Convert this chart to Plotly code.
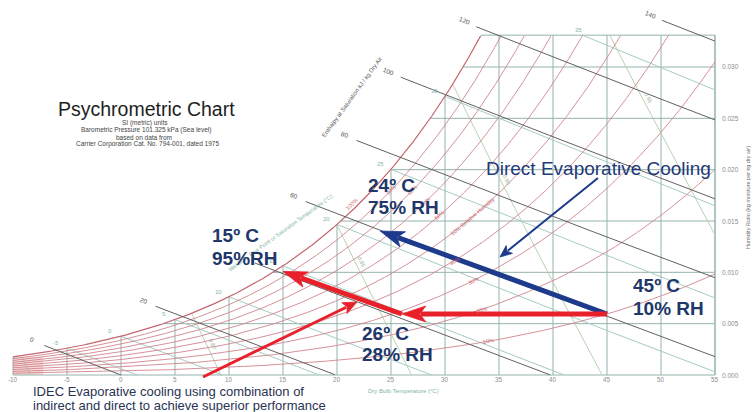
import numpy as np
import plotly.graph_objects as go

# ---------------- chart values ----------------
db_ticks = [-10, -5, 0, 5, 10, 15, 20, 25, 30, 35, 40, 45, 50, 55]
w_ticks = [0.000, 0.005, 0.010, 0.015, 0.020, 0.025, 0.030]
w_tick_labels = ["0.000", "0.005", "0.010", "0.015", "0.020", "0.025", "0.030"]
rh_levels = [10, 20, 30, 40, 50, 60, 70, 80, 90, 100]
rh_labels = ["10%", "20%", "30%", "40%", "50% Relative Humidity", "60%", "70%", "80%", "90%", "100%"]
enthalpy_levels = [0, 20, 40, 60, 80, 100, 120, 140]
enthalpy_labels = ["0", "20", "", "60", "80", "100", "120", "140"]
wetbulb_levels = [-5, 0, 5, 10, 15, 20, 25, 30, 35]
volume_levels = [0.75, 0.80, 0.85, 0.90, 0.95]
volume_labels = ["", "0.80", "0.85", "0.90", "0.95"]
w_chart_top = 0.0331
pressure_kpa = 101.325

# process states (dry bulb degC, relative humidity %)
outdoor_state = (45, 10)
indirect_state = (26, 28)
idec_state = (15, 95)
direct_state = (24, 75)

# ---------------- layout helpers (pixel -> data) ----------------
PX_PER_C = 10.8
PX_PER_W = 10267.0
def X(px):
    return -10 + (px - 13) / PX_PER_C
def Y(py):
    return (375 - py) / PX_PER_W

# ---------------- psychrometric relations ----------------
def psat(t):
    t = np.asarray(t, dtype=float)
    return 0.61094 * np.exp(17.625 * t / (t + 243.04))

def w_rh(t, rh):
    pw = rh / 100.0 * psat(t)
    return 0.622 * pw / (pressure_kpa - pw)

def dewpoint(w):
    pw = w * pressure_kpa / (0.622 + w)
    a = np.log(pw / 0.61094)
    return 243.04 * a / (17.625 - a)

def w_enthalpy(t, h):
    return (h - 1.006 * t) / (2501 + 1.86 * t)

def w_wetbulb(t, twb):
    ws = w_rh(twb, 100)
    return ((2501 - 2.326 * twb) * ws - 1.006 * (t - twb)) / (2501 + 1.86 * t - 4.186 * twb)

def t_volume(w, v):
    return v * pressure_kpa / (0.287042 * (1 + 1.607858 * w)) - 273.15

T = np.linspace(db_ticks[0], db_ticks[-1], 1301)
t_top = float(dewpoint(w_chart_top))

fig = go.Figure()

def add_segments(xs_list, ys_list, color, width):
    xs, ys = [], []
    for a, b in zip(xs_list, ys_list):
        xs += list(a) + [None]
        ys += list(b) + [None]
    fig.add_trace(go.Scatter(x=xs, y=ys, mode="lines", hoverinfo="skip",
                             line=dict(color=color, width=width), showlegend=False))

# pink low-temperature zone
fig.add_trace(go.Scatter(x=[-10, -7.2, -7.2, -10, -10], y=[0, 0, float(w_rh(-10, 100)), float(w_rh(-10, 100)), 0],
                         fill="toself", fillcolor="rgba(232,150,150,0.35)", mode="lines",
                         line=dict(width=0), hoverinfo="skip", showlegend=False))

# grid: dry bulb verticals, humidity ratio horizontals, borders
gx, gy = [], []
for t in db_ticks:
    top = min(float(w_rh(t, 100)), w_chart_top)
    gx.append([t, t]); gy.append([0, top])
for w in w_ticks[1:]:
    gx.append([float(dewpoint(w)), db_ticks[-1]]); gy.append([w, w])
gx.append([t_top, db_ticks[-1]]); gy.append([w_chart_top, w_chart_top])
gx.append([db_ticks[-1], db_ticks[-1]]); gy.append([0, w_chart_top])
gx.append([db_ticks[0], db_ticks[-1]]); gy.append([0, 0])
add_segments(gx, gy, "#94b3ab", 1)

# specific volume lines
vx, vy = [], []
for v in volume_levels:
    ww = np.linspace(0, w_chart_top, 400)
    tt = t_volume(ww, v)
    m = (tt <= db_ticks[-1]) & (ww <= w_rh(tt, 100)) & (tt >= db_ticks[0])
    vx.append(tt[m]); vy.append(ww[m])
add_segments(vx, vy, "#b9d2b3", 1)

# wet bulb lines
bx, by = [], []
for twb in wetbulb_levels:
    tt = np.linspace(twb, db_ticks[-1], 500)
    ww = w_wetbulb(tt, twb)
    m = (ww >= 0) & (ww <= w_chart_top)
    bx.append(tt[m]); by.append(ww[m])
add_segments(bx, by, "#a6cbc3", 1)

# relative humidity curves
rx, ry = [], []
for rh in rh_levels[:-1]:
    ww = w_rh(T, rh)
    m = ww <= w_chart_top
    rx.append(T[m]); ry.append(ww[m])
add_segments(rx, ry, "#d0858c", 0.9)
ws = w_rh(T, 100)
m = ws <= w_chart_top
add_segments([T[m]], [ws[m]], "#c4666f", 1.2)

# enthalpy lines
h_label_t = [-8.0, 2.3, 11.5, 16.2, 20.9, 25.0, 32.0, 49.2]
ex, ey = [], []
for h, tl in zip(enthalpy_levels, h_label_t):
    tt = np.linspace(tl + 0.9, db_ticks[-1], 500)
    ww = w_enthalpy(tt, h)
    m = ww >= 0
    ex.append(tt[m]); ey.append(ww[m])
add_segments(ex, ey, "#606060", 1)

# ---------------- process arrows (line + notched head) ----------------
def draw_arrow(x0, y0, x1, y1, color, width, head_len, head_half, notch):
    dxp = (x1 - x0) * PX_PER_C
    dyp = (y1 - y0) * PX_PER_W
    L = float(np.hypot(dxp, dyp))
    ux, uy = dxp / L, dyp / L
    nx, ny = -uy, ux
    def pt(back, side):
        return (x1 + (-ux * back + nx * side) / PX_PER_C,
                y1 + (-uy * back + ny * side) / PX_PER_W)
    lx, ly = pt(head_len - notch + 1, 0)
    fig.add_trace(go.Scatter(x=[x0, lx], y=[y0, ly], mode="lines", hoverinfo="skip",
                             line=dict(color=color, width=width), showlegend=False))
    pts = [(x1, y1), pt(head_len, head_half), pt(head_len - notch, 0), pt(head_len, -head_half), (x1, y1)]
    fig.add_trace(go.Scatter(x=[p[0] for p in pts], y=[p[1] for p in pts], mode="lines",
                             fill="toself", fillcolor=color, hoverinfo="skip",
                             line=dict(color=color, width=0.8), showlegend=False))

w_out = float(w_rh(*outdoor_state))
w_direct = float(w_rh(*direct_state))
w_idec = float(w_rh(*idec_state))
RED = "#e8202a"
BLUE = "#1d3a8c"
draw_arrow(outdoor_state[0], w_out, direct_state[0], w_direct, BLUE, 5, 24, 8, 6)
draw_arrow(outdoor_state[0], w_out, indirect_state[0], w_out, RED, 5, 24, 8, 6)
draw_arrow(indirect_state[0], w_out, idec_state[0], w_idec, RED, 5, 24, 8, 6)
draw_arrow(X(598), Y(178), X(500), Y(257), BLUE, 2, 12, 5, 3)
draw_arrow(X(203), Y(377), X(357), Y(302), RED, 3, 14, 6, 3)

ann = []
FONT = "Arial, Liberation Sans, sans-serif"

def text(x, y, s, size, color, xanchor="center", angle=0, bold=False):
    ann.append(dict(x=x, y=y, xref="x", yref="y", text=("<b>%s</b>" % s) if bold else s,
                    showarrow=False, xanchor=xanchor, yanchor="middle", textangle=angle,
                    borderpad=0, borderwidth=0,
                    font=dict(family=FONT, size=size, color=color)))

# axis tick labels
for t in db_ticks:
    text(t, Y(379.5), str(t), 6.3, "#8e8e8e")
for w, lab in zip(w_ticks, w_tick_labels):
    text(X(722), w, lab, 6.5, "#8e8e8e", xanchor="left")
text(X(403), Y(391), "Dry Bulb Temperature (°C)", 6, "#7fb2a8")
text(X(748), Y(198), "Humidity Ratio (kg moisture per kg dry air)", 5.5, "#707070", angle=-90)
text(X(352), Y(97), "Enthalpy at Saturation kJ / kg Dry Air", 6, "#606060", angle=-54)
text(X(280), Y(233), "Wet Bulb, Dew Point or Saturation Temperature (°C)", 5.5, "#7fb2a8", angle=-36)

# enthalpy labels
for h, tl, lab in zip(enthalpy_levels, h_label_t, enthalpy_labels):
    if lab:
        text(tl - 0.2, float(w_enthalpy(tl, h)) + 0.0002, lab, 6.5, "#555555", angle=22)

# wet bulb labels
for twb in wetbulb_levels:
    wsat = float(w_rh(twb, 100))
    if wsat <= w_chart_top:
        text(twb - 1.0, wsat + 0.0005, str(twb), 6, "#7fb5ab")
    else:
        tt = np.linspace(twb, db_ticks[-1], 2000)
        ww = w_wetbulb(tt, twb)
        tc = float(tt[np.argmin(np.abs(ww - w_chart_top))])
        text(tc - 0.4, w_chart_top + 0.0005, str(twb), 6, "#7fb5ab")

# RH labels along curves
rh_label_t = [34.0, 33.4, 32.6, 30.9, 32.6, 29.5, 28.2, 27.0, 25.0, 21.4]
for rh, tl, lab in zip(rh_levels, rh_label_t, rh_labels):
    w0 = float(w_rh(tl, rh)); w1 = float(w_rh(tl + 0.3, rh))
    ang = -np.degrees(np.arctan2((w1 - w0) * PX_PER_W, 0.3 * PX_PER_C))
    dw = 0.0006 if rh == 100 else 0.0
    text(tl, w0 + dw, lab, 5.5, "#c8646c", angle=ang)

# volume labels
vol_label_w = [0.0, 0.003, 0.011, 0.019, 0.027]
for v, wl, lab in zip(volume_levels, vol_label_w, volume_labels):
    if lab:
        text(float(t_volume(wl, v)) + 0.6, wl, lab, 5.5, "#8fb59c", angle=63)

# title block
text(X(146), Y(109), "Psychrometric Chart", 19.5, "#1e1e1e")
text(X(145), Y(123), "SI (metric) units", 6.5, "#444444")
text(X(146), Y(130), "Barometric Pressure 101.325 kPa (Sea level)", 6.5, "#444444")
text(X(144), Y(137), "based on data from", 6.5, "#444444")
text(X(147), Y(144), "Carrier Corporation Cat. No. 794-001, dated 1975", 6.5, "#444444")

# process annotations
NAVY = "#203769"
text(X(368), Y(185), "24º C", 19, NAVY, xanchor="left", bold=True)
text(X(368), Y(207), "75% RH", 19, NAVY, xanchor="left", bold=True)
text(X(212), Y(235), "15º C", 19, NAVY, xanchor="left", bold=True)
text(X(212), Y(258), "95%RH", 19, NAVY, xanchor="left", bold=True)
text(X(633), Y(285), "45º C", 19, NAVY, xanchor="left", bold=True)
text(X(633), Y(308), "10% RH", 19, NAVY, xanchor="left", bold=True)
text(X(362), Y(333), "26º C", 19, NAVY, xanchor="left", bold=True)
text(X(362), Y(354), "28% RH", 19, NAVY, xanchor="left", bold=True)
text(X(486), Y(168), "Direct Evaporative Cooling", 19, "#22397a", xanchor="left")
text(X(33), Y(391), "IDEC Evaporative cooling using combination of", 13, "#2a3352", xanchor="left")
text(X(33), Y(405), "indirect and direct to achieve superior performance", 13, "#2a3352", xanchor="left")

fig.update_layout(
    width=754, height=412, margin=dict(l=0, r=0, t=0, b=0),
    paper_bgcolor="white", plot_bgcolor="white", annotations=ann,
    xaxis=dict(range=[X(0), X(754)], visible=False, fixedrange=True),
    yaxis=dict(range=[Y(412), Y(0)], visible=False, fixedrange=True),
    showlegend=False,
)
fig.write_html("out.html", config={"displayModeBar": False},
               post_script="document.body.style.margin='0';document.body.style.overflow='hidden';")
